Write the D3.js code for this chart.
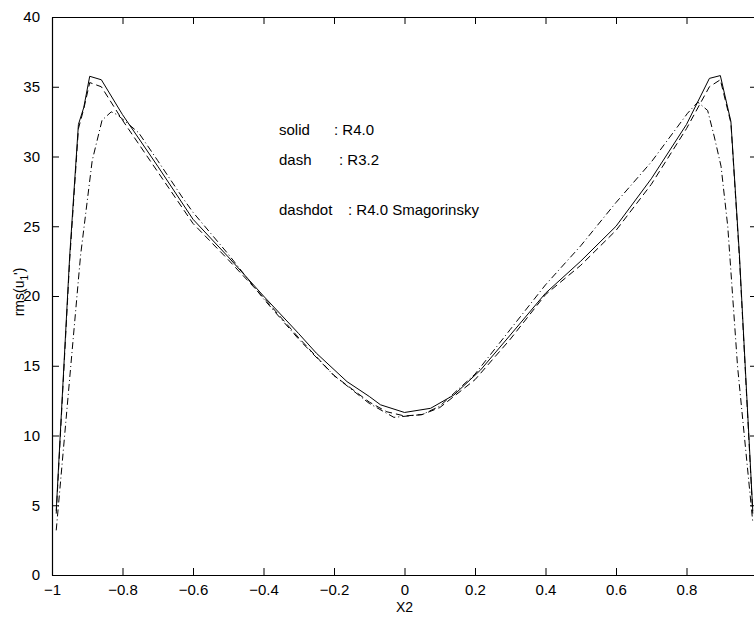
<!DOCTYPE html>
<html>
<head>
<meta charset="utf-8">
<script src="https://cdn.jsdelivr.net/npm/d3@7"></script>
<style>
  body { margin: 0; background: #fff; }
  text { font-family: "Liberation Sans", Arial, sans-serif; fill: #000; }
  .curve { fill: none; stroke: #000; stroke-width: 1; }
</style>
</head>
<body>
<svg id="chart" width="754" height="617"></svg>
<script>
// wall-normal positions and rms(u1') values
var xSolid = [-0.988, -0.95, -0.925, -0.91, -0.893, -0.86, -0.8, -0.7, -0.6, -0.5, -0.4, -0.3, -0.25, -0.163, -0.1, -0.068, 0, 0.074, 0.14, 0.216, 0.3, 0.4, 0.5, 0.6, 0.7, 0.8, 0.865, 0.896, 0.926, 0.95, 0.988];
var ySolid = [4.6, 22.8, 32.3, 33.5, 35.75, 35.5, 33.0, 29.3, 25.5, 22.8, 20.0, 17.3, 15.9, 13.86, 12.8, 12.2, 11.65, 11.95, 12.9, 14.7, 17.2, 20.2, 22.5, 25.0, 28.4, 32.3, 35.6, 35.8, 32.5, 23.0, 4.6];

var xDash = [-0.988, -0.95, -0.925, -0.91, -0.893, -0.86, -0.8, -0.7, -0.6, -0.5, -0.4, -0.3, -0.2, -0.1, -0.05, 0, 0.05, 0.1, 0.2, 0.3, 0.4, 0.5, 0.6, 0.7, 0.8, 0.865, 0.896, 0.926, 0.95, 0.988];
var yDash = [4.4, 22.5, 32.0, 33.4, 35.3, 35.0, 32.6, 28.9, 25.2, 22.6, 19.9, 17.0, 14.3, 12.4, 11.7, 11.4, 11.5, 12.0, 14.0, 16.9, 20.1, 22.2, 24.7, 28.0, 32.0, 35.0, 35.5, 32.4, 22.8, 4.4];

var xDashdot = [-0.988, -0.919, -0.886, -0.858, -0.832, -0.815, -0.754, -0.7, -0.631, -0.6, -0.5, -0.4, -0.3, -0.2, -0.1, -0.03, 0.05, 0.1, 0.2, 0.3, 0.4, 0.5, 0.6, 0.7, 0.803, 0.832, 0.86, 0.879, 0.898, 0.917, 0.945, 0.988];
var yDashdot = [3.2, 22.9, 29.7, 32.6, 33.2, 33.0, 31.7, 29.7, 27.1, 26.0, 23.0, 19.8, 16.9, 14.3, 12.3, 11.3, 11.5, 12.1, 14.4, 17.6, 20.8, 23.6, 26.7, 29.6, 33.1, 33.9, 33.3, 31.4, 29.3, 25.0, 14.9, 3.8];

var xTicks = [-1, -0.8, -0.6, -0.4, -0.2, 0, 0.2, 0.4, 0.6, 0.8, 1];
var xTickLabels = ["\u22121", "\u22120.8", "\u22120.6", "\u22120.4", "\u22120.2", "0", "0.2", "0.4", "0.6", "0.8", ""];
var yTicks = [0, 5, 10, 15, 20, 25, 30, 35, 40];

var legendNames = ["solid", "dash", "dashdot"];
var legendLabels = [": R4.0", ": R3.2", ": R4.0 Smagorinsky"];

var Config = {
  Left: 52,
  Top: 17,
  Width: 705,
  Height: 558,
  TickLen: 7,
  FontSize: 15,
};

var svg = d3.select("#chart");

var x = d3.scaleLinear().domain([-1, 1]).range([Config.Left, Config.Left + Config.Width]);
var y = d3.scaleLinear().domain([0, 40]).range([Config.Top + Config.Height, Config.Top]);

// axes: ticks point inward on all four sides
svg.append("g")
  .attr("transform", "translate(0," + (Config.Top + Config.Height) + ")")
  .call(d3.axisBottom(x).tickValues(xTicks).tickSizeInner(-Config.TickLen).tickSizeOuter(0).tickPadding(9)
    .tickFormat(function (d, i) { return xTickLabels[i]; }))
  .call(function (g) {
    g.select(".domain").attr("stroke-width", 1.2);
    g.selectAll("text").attr("font-size", Config.FontSize).attr("font-family", null);
  });

svg.append("g")
  .attr("transform", "translate(0," + Config.Top + ")")
  .call(d3.axisTop(x).tickValues(xTicks).tickSizeInner(-Config.TickLen).tickSizeOuter(0).tickFormat(""))
  .call(function (g) { g.select(".domain").attr("stroke-width", 1.2); });

svg.append("g")
  .attr("transform", "translate(" + Config.Left + ",0)")
  .call(d3.axisLeft(y).tickValues(yTicks).tickSizeInner(-Config.TickLen).tickSizeOuter(0).tickPadding(12))
  .call(function (g) {
    g.select(".domain").attr("stroke-width", 1.2);
    g.selectAll("text").attr("font-size", Config.FontSize).attr("font-family", null);
  });

svg.append("g")
  .attr("transform", "translate(" + (Config.Left + Config.Width) + ",0)")
  .call(d3.axisRight(y).tickValues(yTicks).tickSizeInner(-Config.TickLen).tickSizeOuter(0).tickFormat(""))
  .call(function (g) { g.select(".domain").attr("stroke-width", 1.2); });

// curves
function drawCurve(xs, ys, dash) {
  var line = d3.line()
    .x(function (d) { return x(d[0]); })
    .y(function (d) { return y(d[1]); });
  svg.append("path")
    .datum(d3.zip(xs, ys))
    .attr("class", "curve")
    .attr("stroke-dasharray", dash)
    .attr("d", line);
}

drawCurve(xSolid, ySolid, null);
drawCurve(xDash, yDash, "7,4");
drawCurve(xDashdot, yDashdot, "7,3,1,3");

// legend text inside the plot
var legendX = [279, 279, 279];
var labelX = [334, 339, 348];
var legendY = [135, 165, 215];

svg.selectAll(".legend-name")
  .data(legendNames)
  .enter()
  .append("text")
  .attr("class", "legend-name")
  .attr("x", function (d, i) { return legendX[i]; })
  .attr("y", function (d, i) { return legendY[i]; })
  .attr("font-size", Config.FontSize)
  .text(function (d) { return d; });

svg.selectAll(".legend-label")
  .data(legendLabels)
  .enter()
  .append("text")
  .attr("class", "legend-label")
  .attr("x", function (d, i) { return labelX[i]; })
  .attr("y", function (d, i) { return legendY[i]; })
  .attr("font-size", Config.FontSize)
  .text(function (d) { return d; });

// axis labels
svg.append("text")
  .attr("x", x(0))
  .attr("y", 612)
  .attr("text-anchor", "middle")
  .attr("font-size", Config.FontSize - 1)
  .text("X2");

var ylab = svg.append("text")
  .attr("transform", "translate(24,292) rotate(-90)")
  .attr("text-anchor", "middle")
  .attr("font-size", Config.FontSize - 1);
ylab.append("tspan").text("rms(u");
ylab.append("tspan").attr("dy", 4).attr("font-size", 10).text("1");
ylab.append("tspan").attr("dy", -4).text("')");
</script>
</body>
</html>
